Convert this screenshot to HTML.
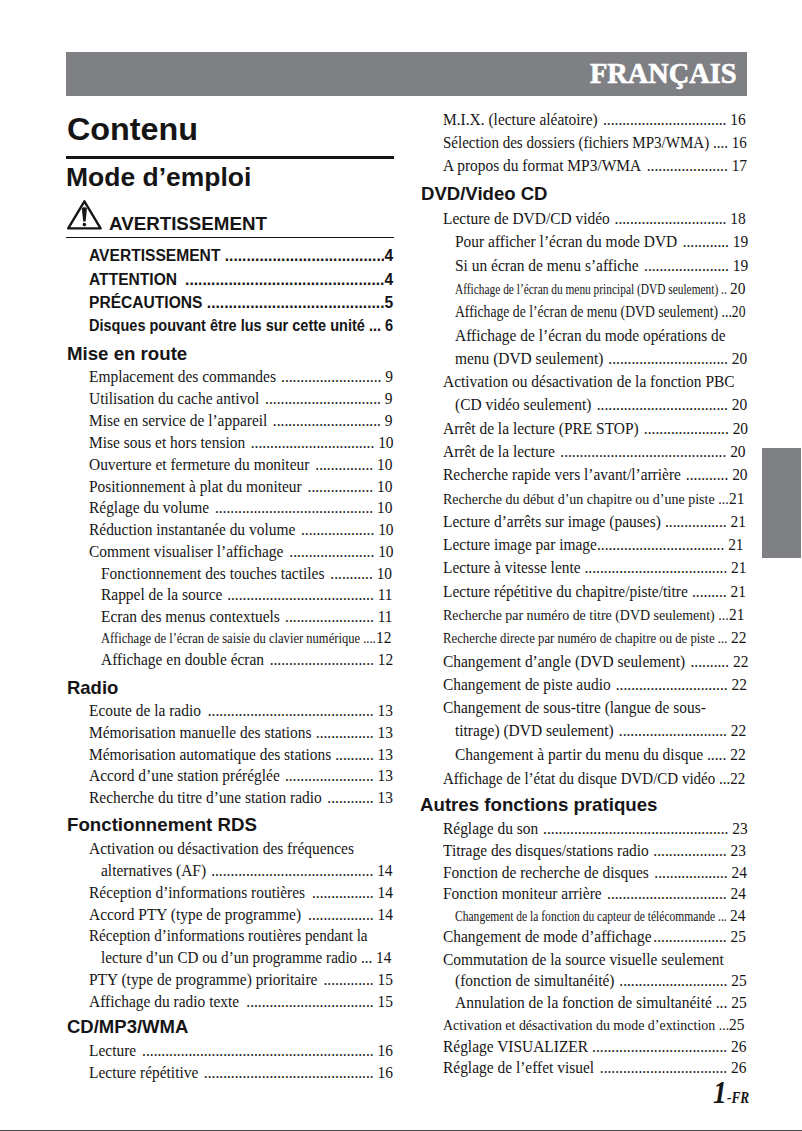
<!DOCTYPE html><html><head><meta charset="utf-8"><style>
html,body{margin:0;padding:0;background:#fff}
body{width:802px;height:1131px;position:relative;overflow:hidden;color:#161516}
.l{position:absolute;white-space:nowrap;line-height:20px;height:20px;display:flex;transform-origin:0 0}
.s{font-family:'Liberation Serif',serif;font-size:15.9px}
.c{font-family:'Liberation Serif',serif;font-size:14.7px}
.b{font-family:'Liberation Sans',sans-serif;font-size:15.6px;font-weight:bold}
.t,.n{flex:none;white-space:pre}
.d{flex:1 1 0;min-width:0;overflow:hidden;text-align:right}
.h{position:absolute;white-space:nowrap;line-height:40px;height:40px;font-family:'Liberation Sans',sans-serif;font-weight:bold;transform-origin:0 0}
.m{display:inline-block;width:0;height:0;vertical-align:baseline}
</style></head><body>

<div class="l b" style="left:89.00px;top:245.61px;width:304.10px"><span class="t">AVERTISSEMENT </span><span class="d" id="d0">.....................................</span><span class="n">4<i class="m" id="m0"></i></span></div>
<div class="l b" style="left:89.00px;top:269.61px;width:304.10px"><span class="t">ATTENTION </span><span class="d" id="d1">..............................................</span><span class="n">4<i class="m" id="m1"></i></span></div>
<div class="l b" style="left:89.00px;top:293.00px;width:304.10px"><span class="t">PRÉCAUTIONS </span><span class="d" id="d2">.........................................</span><span class="n">5<i class="m" id="m2"></i></span></div>
<div class="l b" style="left:89.00px;top:315.61px;width:326.69px;transform:scaleX(0.9309)"><span class="t">Disques pouvant être lus sur cette unité ...</span><span class="d" id="d3"></span><span class="n"> 6<i class="m" id="m3"></i></span></div>
<div class="l s" style="left:89.00px;top:367.30px;width:312.85px;transform:scaleX(0.9717)"><span class="t">Emplacement des commandes </span><span class="d" id="d4">..........................</span><span class="n"> 9<i class="m" id="m4"></i></span></div>
<div class="l s" style="left:89.00px;top:389.11px;width:312.34px;transform:scaleX(0.9717)"><span class="t">Utilisation du cache antivol </span><span class="d" id="d5">..............................</span><span class="n"> 9<i class="m" id="m5"></i></span></div>
<div class="l s" style="left:89.00px;top:411.30px;width:312.34px;transform:scaleX(0.9717)"><span class="t">Mise en service de l’appareil </span><span class="d" id="d6">............................</span><span class="n"> 9<i class="m" id="m6"></i></span></div>
<div class="l s" style="left:89.00px;top:432.91px;width:313.47px;transform:scaleX(0.9717)"><span class="t">Mise sous et hors tension </span><span class="d" id="d7">................................</span><span class="n"> 10<i class="m" id="m7"></i></span></div>
<div class="l s" style="left:89.00px;top:454.71px;width:312.34px;transform:scaleX(0.9717)"><span class="t">Ouverture et fermeture du moniteur </span><span class="d" id="d8">...............</span><span class="n"> 10<i class="m" id="m8"></i></span></div>
<div class="l s" style="left:89.00px;top:476.50px;width:312.34px;transform:scaleX(0.9717)"><span class="t">Positionnement à plat du moniteur </span><span class="d" id="d9">.................</span><span class="n"> 10<i class="m" id="m9"></i></span></div>
<div class="l s" style="left:89.00px;top:498.21px;width:312.34px;transform:scaleX(0.9717)"><span class="t">Réglage du volume </span><span class="d" id="d10">.........................................</span><span class="n"> 10<i class="m" id="m10"></i></span></div>
<div class="l s" style="left:89.00px;top:520.00px;width:313.47px;transform:scaleX(0.9717)"><span class="t">Réduction instantanée du volume </span><span class="d" id="d11">...................</span><span class="n"> 10<i class="m" id="m11"></i></span></div>
<div class="l s" style="left:89.00px;top:541.71px;width:313.47px;transform:scaleX(0.9717)"><span class="t">Comment visualiser l’affichage </span><span class="d" id="d12">......................</span><span class="n"> 10<i class="m" id="m12"></i></span></div>
<div class="l s" style="left:101.40px;top:563.50px;width:299.58px;transform:scaleX(0.9717)"><span class="t">Fonctionnement des touches tactiles </span><span class="d" id="d13">...........</span><span class="n"> 10<i class="m" id="m13"></i></span></div>
<div class="l s" style="left:101.40px;top:585.30px;width:300.09px;transform:scaleX(0.9717)"><span class="t">Rappel de la source </span><span class="d" id="d14">......................................</span><span class="n"> 11<i class="m" id="m14"></i></span></div>
<div class="l s" style="left:101.40px;top:607.30px;width:300.09px;transform:scaleX(0.9717)"><span class="t">Ecran des menus contextuels </span><span class="d" id="d15">.......................</span><span class="n"> 11<i class="m" id="m15"></i></span></div>
<div class="l c" style="left:101.40px;top:628.21px;transform:scaleX(0.8557)"><span class="t">Affichage de l’écran de saisie du clavier numérique ....<i class="m" id="m16"></i></span></div>
<div class="l s" style="left:376.15px;top:628.21px;transform:scaleX(0.9717)"><span class="n">12<i class="m" id="mn16"></i></span></div>
<div class="l s" style="left:101.40px;top:650.00px;width:300.71px;transform:scaleX(0.9717)"><span class="t">Affichage en double écran </span><span class="d" id="d17">...........................</span><span class="n"> 12<i class="m" id="m17"></i></span></div>
<div class="l s" style="left:89.00px;top:701.41px;width:312.85px;transform:scaleX(0.9717)"><span class="t">Ecoute de la radio </span><span class="d" id="d18">...........................................</span><span class="n"> 13<i class="m" id="m18"></i></span></div>
<div class="l s" style="left:89.00px;top:723.30px;width:312.85px;transform:scaleX(0.9717)"><span class="t">Mémorisation manuelle des stations </span><span class="d" id="d19">...............</span><span class="n"> 13<i class="m" id="m19"></i></span></div>
<div class="l s" style="left:89.00px;top:745.00px;width:312.85px;transform:scaleX(0.9717)"><span class="t">Mémorisation automatique des stations </span><span class="d" id="d20">..........</span><span class="n"> 13<i class="m" id="m20"></i></span></div>
<div class="l s" style="left:89.00px;top:766.21px;width:312.85px;transform:scaleX(0.9717)"><span class="t">Accord d’une station préréglée </span><span class="d" id="d21">.......................</span><span class="n"> 13<i class="m" id="m21"></i></span></div>
<div class="l s" style="left:89.00px;top:788.11px;width:312.85px;transform:scaleX(0.9717)"><span class="t">Recherche du titre d’une station radio </span><span class="d" id="d22">............</span><span class="n"> 13<i class="m" id="m22"></i></span></div>
<div class="l s" id="w23" style="left:89.00px;top:839.21px;transform:scaleX(0.9717)"><span class="t">Activation ou désactivation des fréquences<i class="m" id="m23"></i></span></div>
<div class="l s" style="left:101.40px;top:860.71px;width:300.09px;transform:scaleX(0.9717)"><span class="t">alternatives (AF) </span><span class="d" id="d24">..........................................</span><span class="n"> 14<i class="m" id="m24"></i></span></div>
<div class="l s" style="left:89.00px;top:883.11px;width:312.85px;transform:scaleX(0.9717)"><span class="t">Réception d’informations routières </span><span class="d" id="d25">................</span><span class="n"> 14<i class="m" id="m25"></i></span></div>
<div class="l s" style="left:89.00px;top:904.80px;width:312.85px;transform:scaleX(0.9717)"><span class="t">Accord PTY (type de programme) </span><span class="d" id="d26">.................</span><span class="n"> 14<i class="m" id="m26"></i></span></div>
<div class="l s" id="w27" style="left:89.00px;top:926.00px;transform:scaleX(0.9537)"><span class="t">Réception d’informations routières pendant la<i class="m" id="m27"></i></span></div>
<div class="l s" id="w28" style="left:101.40px;top:948.11px;transform:scaleX(0.9517)"><span class="t">lecture d’un CD ou d’un programme radio ... 14<i class="m" id="m28"></i></span></div>
<div class="l s" style="left:89.00px;top:970.41px;width:312.85px;transform:scaleX(0.9717)"><span class="t">PTY (type de programme) prioritaire </span><span class="d" id="d29">.............</span><span class="n"> 15<i class="m" id="m29"></i></span></div>
<div class="l s" style="left:89.00px;top:992.21px;width:312.85px;transform:scaleX(0.9717)"><span class="t">Affichage du radio texte </span><span class="d" id="d30">.................................</span><span class="n"> 15<i class="m" id="m30"></i></span></div>
<div class="l s" style="left:89.00px;top:1040.91px;width:312.85px;transform:scaleX(0.9717)"><span class="t">Lecture </span><span class="d" id="d31">............................................................</span><span class="n"> 16<i class="m" id="m31"></i></span></div>
<div class="l s" style="left:89.00px;top:1062.50px;width:312.85px;transform:scaleX(0.9717)"><span class="t">Lecture répétitive </span><span class="d" id="d32">............................................</span><span class="n"> 16<i class="m" id="m32"></i></span></div>
<div class="l s" style="left:443.00px;top:110.21px;width:311.62px;transform:scaleX(0.9717)"><span class="t">M.I.X. (lecture aléatoire) </span><span class="d" id="d33">................................</span><span class="n"> 16<i class="m" id="m33"></i></span></div>
<div class="l s" id="w34" style="left:443.00px;top:132.80px;transform:scaleX(0.9452)"><span class="t">Sélection des dossiers (fichiers MP3/WMA) .... 16<i class="m" id="m34"></i></span></div>
<div class="l s" style="left:443.00px;top:156.21px;width:312.96px;transform:scaleX(0.9717)"><span class="t">A propos du format MP3/WMA </span><span class="d" id="d35">.....................</span><span class="n"> 17<i class="m" id="m35"></i></span></div>
<div class="l s" style="left:443.00px;top:209.21px;width:311.62px;transform:scaleX(0.9717)"><span class="t">Lecture de DVD/CD vidéo </span><span class="d" id="d36">.............................</span><span class="n"> 18<i class="m" id="m36"></i></span></div>
<div class="l s" style="left:455.30px;top:231.91px;width:301.84px;transform:scaleX(0.9717)"><span class="t">Pour afficher l’écran du mode DVD </span><span class="d" id="d37">............</span><span class="n"> 19<i class="m" id="m37"></i></span></div>
<div class="l s" style="left:455.30px;top:255.91px;width:301.84px;transform:scaleX(0.9717)"><span class="t">Si un écran de menu s’affiche </span><span class="d" id="d38">......................</span><span class="n"> 19<i class="m" id="m38"></i></span></div>
<div class="l c" style="left:455.30px;top:278.91px;transform:scaleX(0.7755)"><span class="t">Affichage de l’écran du menu principal (DVD seulement) .. <i class="m" id="m39"></i></span></div>
<div class="l s" style="left:729.95px;top:278.91px;transform:scaleX(0.9717)"><span class="n">20<i class="m" id="mn39"></i></span></div>
<div class="l s" id="w40" style="left:455.30px;top:301.80px;transform:scaleX(0.8602)"><span class="t">Affichage de l’écran de menu (DVD seulement) ...20<i class="m" id="m40"></i></span></div>
<div class="l s" id="w41" style="left:455.30px;top:325.91px;transform:scaleX(0.9717)"><span class="t">Affichage de l’écran du mode opérations de<i class="m" id="m41"></i></span></div>
<div class="l s" style="left:455.30px;top:349.21px;width:300.81px;transform:scaleX(0.9717)"><span class="t">menu (DVD seulement) </span><span class="d" id="d42">...............................</span><span class="n"> 20<i class="m" id="m42"></i></span></div>
<div class="l s" id="w43" style="left:443.00px;top:371.80px;transform:scaleX(0.9717)"><span class="t">Activation ou désactivation de la fonction PBC<i class="m" id="m43"></i></span></div>
<div class="l s" style="left:455.30px;top:395.21px;width:300.81px;transform:scaleX(0.9717)"><span class="t">(CD vidéo seulement) </span><span class="d" id="d44">..................................</span><span class="n"> 20<i class="m" id="m44"></i></span></div>
<div class="l s" style="left:443.00px;top:418.91px;width:313.99px;transform:scaleX(0.9717)"><span class="t">Arrêt de la lecture (PRE STOP) </span><span class="d" id="d45">......................</span><span class="n"> 20<i class="m" id="m45"></i></span></div>
<div class="l s" style="left:443.00px;top:441.80px;width:311.41px;transform:scaleX(0.9717)"><span class="t">Arrêt de la lecture </span><span class="d" id="d46">...........................................</span><span class="n"> 20<i class="m" id="m46"></i></span></div>
<div class="l s" style="left:443.00px;top:465.11px;width:313.47px;transform:scaleX(0.9717)"><span class="t">Recherche rapide vers l’avant/l’arrière </span><span class="d" id="d47">...........</span><span class="n"> 20<i class="m" id="m47"></i></span></div>
<div class="l c" style="left:443.00px;top:488.50px;transform:scaleX(0.9529)"><span class="t">Recherche du début d’un chapitre ou d’une piste ...<i class="m" id="m48"></i></span></div>
<div class="l s" style="left:728.65px;top:488.50px;transform:scaleX(0.9717)"><span class="n">21<i class="m" id="mn48"></i></span></div>
<div class="l s" style="left:443.00px;top:511.80px;width:311.83px;transform:scaleX(0.9717)"><span class="t">Lecture d’arrêts sur image (pauses) </span><span class="d" id="d49">................</span><span class="n"> 21<i class="m" id="m49"></i></span></div>
<div class="l s" style="left:443.00px;top:534.91px;width:309.36px;transform:scaleX(0.9717)"><span class="t">Lecture image par image</span><span class="d" id="d50">.................................</span><span class="n"> 21<i class="m" id="m50"></i></span></div>
<div class="l s" style="left:443.00px;top:558.11px;width:312.34px;transform:scaleX(0.9717)"><span class="t">Lecture à vitesse lente </span><span class="d" id="d51">.....................................</span><span class="n"> 21<i class="m" id="m51"></i></span></div>
<div class="l s" style="left:443.00px;top:581.80px;width:311.83px;transform:scaleX(0.9717)"><span class="t">Lecture répétitive du chapitre/piste/titre </span><span class="d" id="d52">.........</span><span class="n"> 21<i class="m" id="m52"></i></span></div>
<div class="l c" style="left:443.00px;top:605.11px;transform:scaleX(0.9491)"><span class="t">Recherche par numéro de titre (DVD seulement) ...<i class="m" id="m53"></i></span></div>
<div class="l s" style="left:728.65px;top:605.11px;transform:scaleX(0.9717)"><span class="n">21<i class="m" id="mn53"></i></span></div>
<div class="l c" style="left:443.00px;top:627.80px;transform:scaleX(0.8694)"><span class="t">Recherche directe par numéro de chapitre ou de piste ... <i class="m" id="m54"></i></span></div>
<div class="l s" style="left:730.55px;top:627.80px;transform:scaleX(0.9717)"><span class="n">22<i class="m" id="mn54"></i></span></div>
<div class="l s" style="left:443.00px;top:651.80px;width:314.30px;transform:scaleX(0.9717)"><span class="t">Changement d’angle (DVD seulement) </span><span class="d" id="d55">..........</span><span class="n"> 22<i class="m" id="m55"></i></span></div>
<div class="l s" style="left:443.00px;top:675.21px;width:312.85px;transform:scaleX(0.9717)"><span class="t">Changement de piste audio </span><span class="d" id="d56">.............................</span><span class="n"> 22<i class="m" id="m56"></i></span></div>
<div class="l s" id="w57" style="left:443.00px;top:698.11px;transform:scaleX(0.9717)"><span class="t">Changement de sous-titre (langue de sous-<i class="m" id="m57"></i></span></div>
<div class="l s" style="left:455.30px;top:721.11px;width:299.68px;transform:scaleX(0.9717)"><span class="t">titrage) (DVD seulement) </span><span class="d" id="d58">............................</span><span class="n"> 22<i class="m" id="m58"></i></span></div>
<div class="l s" id="w59" style="left:455.30px;top:744.91px;transform:scaleX(0.9759)"><span class="t">Changement à partir du menu du disque ..... 22<i class="m" id="m59"></i></span></div>
<div class="l s" id="w60" style="left:443.00px;top:768.50px;transform:scaleX(0.9444)"><span class="t">Affichage de l’état du disque DVD/CD vidéo ...22<i class="m" id="m60"></i></span></div>
<div class="l s" style="left:443.00px;top:819.11px;width:313.57px;transform:scaleX(0.9717)"><span class="t">Réglage du son </span><span class="d" id="d61">................................................</span><span class="n"> 23<i class="m" id="m61"></i></span></div>
<div class="l s" style="left:443.00px;top:840.61px;width:311.83px;transform:scaleX(0.9717)"><span class="t">Titrage des disques/stations radio </span><span class="d" id="d62">...................</span><span class="n"> 23<i class="m" id="m62"></i></span></div>
<div class="l s" style="left:443.00px;top:863.00px;width:312.85px;transform:scaleX(0.9717)"><span class="t">Fonction de recherche de disques </span><span class="d" id="d63">...................</span><span class="n"> 24<i class="m" id="m63"></i></span></div>
<div class="l s" style="left:443.00px;top:884.41px;width:311.83px;transform:scaleX(0.9717)"><span class="t">Fonction moniteur arrière </span><span class="d" id="d64">...............................</span><span class="n"> 24<i class="m" id="m64"></i></span></div>
<div class="l c" style="left:455.30px;top:905.61px;transform:scaleX(0.7864)"><span class="t">Changement de la fonction du capteur de télécommande ... <i class="m" id="m65"></i></span></div>
<div class="l s" style="left:729.85px;top:905.61px;transform:scaleX(0.9717)"><span class="n">24<i class="m" id="mn65"></i></span></div>
<div class="l s" style="left:443.00px;top:927.30px;width:311.83px;transform:scaleX(0.9717)"><span class="t">Changement de mode d’affichage</span><span class="d" id="d66">...................</span><span class="n"> 25<i class="m" id="m66"></i></span></div>
<div class="l s" id="w67" style="left:443.00px;top:950.11px;transform:scaleX(0.9717)"><span class="t">Commutation de la source visuelle seulement<i class="m" id="m67"></i></span></div>
<div class="l s" style="left:455.30px;top:971.30px;width:300.20px;transform:scaleX(0.9717)"><span class="t">(fonction de simultanéité) </span><span class="d" id="d68">............................</span><span class="n"> 25<i class="m" id="m68"></i></span></div>
<div class="l s" id="w69" style="left:455.30px;top:993.21px;transform:scaleX(0.9749)"><span class="t">Annulation de la fonction de simultanéité ... 25<i class="m" id="m69"></i></span></div>
<div class="l c" style="left:443.00px;top:1015.11px;transform:scaleX(0.9493)"><span class="t">Activation et désactivation du mode d’extinction ...<i class="m" id="m70"></i></span></div>
<div class="l s" style="left:729.15px;top:1015.11px;transform:scaleX(0.9717)"><span class="n">25<i class="m" id="mn70"></i></span></div>
<div class="l s" style="left:443.00px;top:1037.11px;width:312.34px;transform:scaleX(0.9717)"><span class="t">Réglage VISUALIZER </span><span class="d" id="d71">...................................</span><span class="n"> 26<i class="m" id="m71"></i></span></div>
<div class="l s" style="left:443.00px;top:1057.50px;width:312.34px;transform:scaleX(0.9717)"><span class="t">Réglage de l’effet visuel </span><span class="d" id="d72">.................................</span><span class="n"> 26<i class="m" id="m72"></i></span></div>
<div class="h" id="hw0" style="left:66.6px;top:109.00px;font-size:32px;transform:scaleX(1.0105)"><span id="hs0">Contenu</span><i class="m" id="hm0"></i></div>
<div class="h" id="hw1" style="left:65.8px;top:157.00px;font-size:25.2px;transform:scaleX(1.0511)"><span id="hs1">Mode d’emploi</span><i class="m" id="hm1"></i></div>
<div class="h" id="hw2" style="left:109.0px;top:204.21px;font-size:19.0px;transform:scaleX(0.9864)"><span id="hs2">AVERTISSEMENT</span><i class="m" id="hm2"></i></div>
<div class="h" id="hw3" style="left:66.5px;top:334.00px;font-size:18.4px;transform:scaleX(1.0142)"><span id="hs3">Mise en route</span><i class="m" id="hm3"></i></div>
<div class="h" id="hw4" style="left:66.9px;top:667.50px;font-size:18.4px;transform:scaleX(1.0045)"><span id="hs4">Radio</span><i class="m" id="hm4"></i></div>
<div class="h" id="hw5" style="left:66.9px;top:805.30px;font-size:18.4px;transform:scaleX(1.0159)"><span id="hs5">Fonctionnement RDS</span><i class="m" id="hm5"></i></div>
<div class="h" id="hw6" style="left:66.9px;top:1007.30px;font-size:18.4px;transform:scaleX(1.0063)"><span id="hs6">CD/MP3/WMA</span><i class="m" id="hm6"></i></div>
<div class="h" id="hw7" style="left:420.7px;top:173.61px;font-size:18.4px;transform:scaleX(1.0093)"><span id="hs7">DVD/Video CD</span><i class="m" id="hm7"></i></div>
<div class="h" id="hw8" style="left:420.0px;top:785.41px;font-size:18.4px;transform:scaleX(1.0147)"><span id="hs8">Autres fonctions pratiques</span><i class="m" id="hm8"></i></div>
<div style="position:absolute;left:66px;top:52px;width:681px;height:44px;background:#7f8084"></div>
<div style="position:absolute;left:590px;top:51.0px;height:44px;line-height:44px;transform:scaleX(0.952);transform-origin:0 0;font-family:'Liberation Serif',serif;font-weight:bold;font-size:29.8px;color:#fff;-webkit-text-stroke:0.7px #fff;white-space:nowrap">FRANÇAIS</div>
<div style="position:absolute;left:66px;top:156px;width:327.5px;height:3px;background:#161516"></div>
<div style="position:absolute;left:66px;top:236.5px;width:327.5px;height:1.5px;background:#161516"></div>
<div style="position:absolute;left:762px;top:448px;width:39px;height:109.5px;background:#7f8084"></div>
<div style="position:absolute;left:0;top:1129.5px;width:802px;height:1.5px;background:#4a4a4c"></div>
<svg style="position:absolute;left:0;top:0" width="802" height="1131">
<path d="M84.4 201.3 L68.2 228.4 L100.6 228.4 Z" fill="none" stroke="#161516" stroke-width="2.4" stroke-linejoin="round"/>
<path d="M84.4 207.2 c1.6 0 2.6 0.6 2.5 1.8 l-1.3 12.6 h-2.4 l-1.3 -12.6 c-0.1 -1.2 0.9 -1.8 2.5 -1.8 Z" fill="#161516"/>
<circle cx="84.4" cy="224.6" r="1.8" fill="#161516"/>
</svg>
<div style="position:absolute;left:713px;top:1075.2px;font-family:'Liberation Serif',serif;font-weight:bold;font-style:italic;font-size:32px;line-height:34px;white-space:nowrap;transform:scaleX(0.86);transform-origin:0 0">1</div>
<div style="position:absolute;left:726.5px;top:1087.8px;font-family:'Liberation Serif',serif;font-weight:bold;font-style:italic;font-size:16.3px;line-height:20px;white-space:nowrap;transform:scaleX(0.82);transform-origin:0 0">-FR</div>

</body></html>
